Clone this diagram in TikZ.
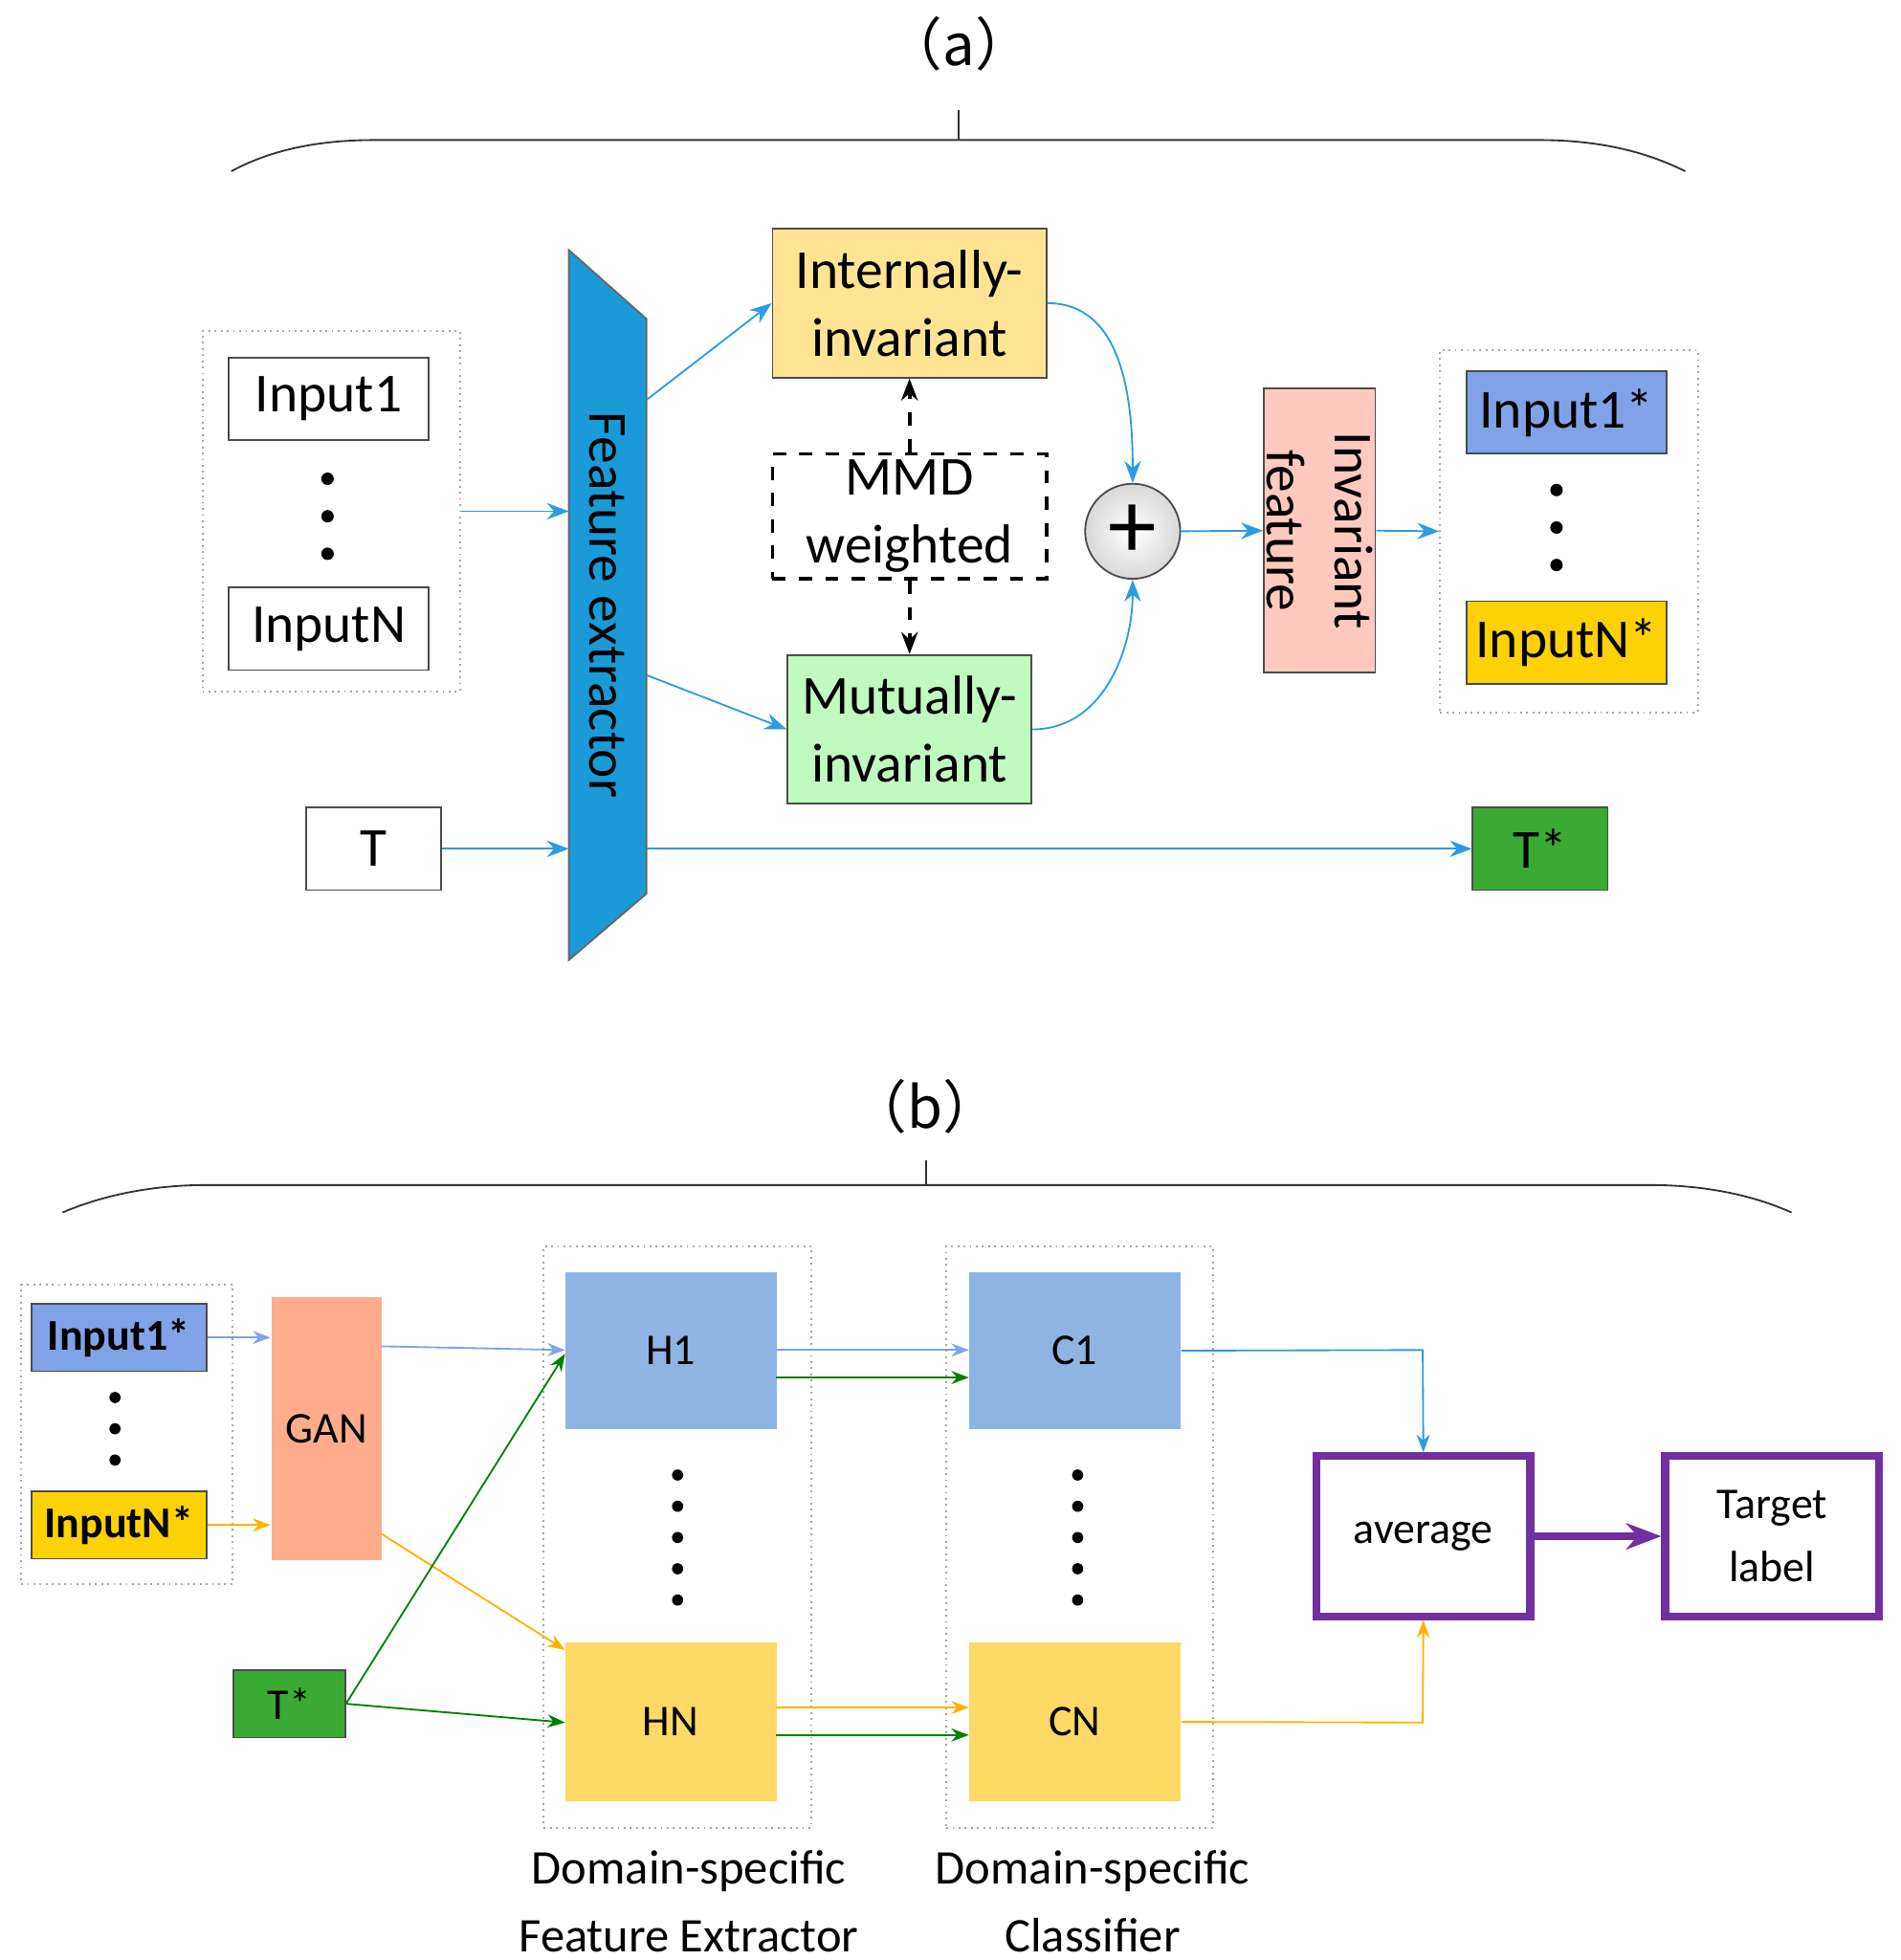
\documentclass[tikz,border=0pt]{standalone}
\usepackage{fontspec}
\setmainfont{Carlito}
\newfontfamily\cjk{Noto Sans CJK SC}
\usetikzlibrary{arrows.meta}
\definecolor{fblue}{HTML}{1A9AD6}
\definecolor{lblue}{HTML}{2E9BE0}
\definecolor{bblue}{HTML}{8EB4E3}
\definecolor{byel}{HTML}{FFD966}
\definecolor{bgreen}{HTML}{3AAA35}
\definecolor{bpurp}{HTML}{7030A0}
\tikzset{
  box/.style={draw=black!70,inner sep=0pt,align=center},
  grp/.style={draw=black!35,densely dotted,inner sep=0pt},
  arr/.style={-{Stealth[length=5pt]},lblue},
  dot/.style={circle,fill=black,inner sep=1pt},
}
\begin{document}
\begin{tikzpicture}[x=0.01cm,y=-0.01cm]
\useasboundingbox (0,0) rectangle (1520,1568);
\begin{scope}[font=\fontsize{12.5}{15.5}\selectfont]
% (a)
\node[font=\fontsize{13}{15}\selectfont] (ta) at (767,35) {\cjk （a）};
\draw[black!80] (185,137) .. controls (220,118) and (260,112) .. (300,112) -- (1230,112) .. controls (1270,112) and (1310,118) .. (1348,137);
\draw[black!80] (767,88) -- (767,112);
\node[grp,minimum width=2.06cm,minimum height=2.88cm] (gin) at (265,409) {};
\node[box,minimum width=1.6cm,minimum height=0.66cm] (in1) at (263,319) {Input1};
\node[box,minimum width=1.6cm,minimum height=0.66cm] (inN) at (263,503) {InputN};
\foreach \y in {383,413,443} \node[dot] at (262,\y) {};
\node[box,minimum width=1.08cm,minimum height=0.66cm] (t) at (299,679) {T};
\draw[black!60,fill=fblue] (455,200) -- (517,255) -- (517,715) -- (455,768) -- cycle;
\node[rotate=-90] (fe) at (486,484) {Feature extractor};
\coordinate (fein) at (455,409);
\coordinate (fet) at (455,679);
\node[box,fill=byel!70,minimum width=2.19cm,minimum height=1.19cm] (int) at (727.5,242.5) {Internally-\\invariant};
\node[box,draw=black,dashed,thick,minimum width=2.19cm,minimum height=1cm] (mmd) at (727.5,413) {MMD\\weighted};
\node[box,fill=green!45!black!10!green!25,minimum width=1.95cm,minimum height=1.19cm] (mut) at (727.5,583.5) {Mutually-\\invariant};
\node[circle,draw=black!70,inner color=white,outer color=black!15,minimum size=0.76cm,inner sep=0pt,font=\fontsize{22}{22}\selectfont] (plus) at (906,425) {+};
\node[box,fill=orange!30!red!25,rotate=-90,minimum width=2.27cm,minimum height=0.89cm,align=center] (inv) at (1055.5,424.5) {Invariant\\feature};
\node[grp,minimum width=2.06cm,minimum height=2.9cm] (gout) at (1255,425) {};
\node[box,fill=bblue!90!blue,minimum width=1.6cm,minimum height=0.66cm] (o1) at (1253,330) {Input1*};
\node[box,fill=yellow!70!orange,minimum width=1.6cm,minimum height=0.66cm] (oN) at (1253,514) {InputN*};
\foreach \y in {392,422,452} \node[dot] at (1245,\y) {};
\node[box,fill=bgreen,minimum width=1.08cm,minimum height=0.66cm] (ts) at (1232,679) {T*};
% connectors
\draw[arr] (gin.east) -- (fein);
\draw[arr] (t.east) -- (fet);
\draw[arr] (517,320) -- (int.west);
\draw[arr] (517,540) -- (mut.west);
\draw[arr] (int.east) to[out=0,in=90] (plus.north);
\draw[arr] (mut.east) to[out=0,in=-90] (plus.south);
\draw[arr] (plus.east) -- (inv.south);
\draw[arr] (inv.north) -- (gout.west);
\draw[arr] (517,679) -- (ts.west);
\draw[-{Stealth[length=5pt]},dashed,thick] (mmd.north) -- (int.south);
\draw[-{Stealth[length=5pt]},dashed,thick] (mmd.south) -- (mut.north);
\end{scope}
%
% (b)
\begin{scope}[font=\fontsize{10}{14.5}\selectfont]
\node[font=\fontsize{13}{15}\selectfont] (tb) at (740,885) {\cjk （b）};
\draw[black!80] (50,970) .. controls (85,955) and (125,948) .. (165,948) -- (1320,948) .. controls (1360,948) and (1400,955) .. (1433,970);
\draw[black!80] (741,928) -- (741,948);
\node[grp,minimum width=1.69cm,minimum height=2.39cm] (gb) at (101.5,1147.5) {};
\node[box,fill=bblue!90!blue,font=\fontsize{10}{12}\bfseries,minimum width=1.4cm,minimum height=0.54cm] (b1) at (95,1070) {Input1*};
\node[box,fill=yellow!70!orange,font=\fontsize{10}{12}\bfseries,minimum width=1.4cm,minimum height=0.54cm] (bN) at (95,1220) {InputN*};
\foreach \y in {1118,1143,1168} \node[dot,inner sep=0.9pt] at (92,\y) {};
\node[box,draw=none,fill=orange!55!red!45,minimum width=0.88cm,minimum height=2.1cm] (gan) at (261,1143) {GAN};
\node[box,fill=bgreen,minimum width=0.89cm,minimum height=0.54cm] (bt) at (231.5,1363) {T*};
\node[grp,minimum width=2.14cm,minimum height=4.65cm] (gh) at (542,1229.5) {};
\node[grp,minimum width=2.13cm,minimum height=4.65cm] (gc) at (863.5,1229.5) {};
\node[box,draw=none,fill=bblue,minimum width=1.69cm,minimum height=1.25cm] (h1) at (536.5,1080.5) {H1};
\node[box,draw=none,fill=byel,minimum width=1.69cm,minimum height=1.27cm] (hN) at (536.5,1377.5) {HN};
\node[box,draw=none,fill=bblue,minimum width=1.69cm,minimum height=1.25cm] (c1) at (859.5,1080.5) {C1};
\node[box,draw=none,fill=byel,minimum width=1.69cm,minimum height=1.27cm] (cN) at (859.5,1377.5) {CN};
\foreach \y in {1180,1205,1230,1255,1280} {
  \node[dot,inner sep=0.9pt] at (542,\y) {};
  \node[dot,inner sep=0.9pt] at (862,\y) {};
}
\node[box,draw=bpurp,line width=1.8pt,minimum width=1.71cm,minimum height=1.28cm] (avg) at (1138.5,1229) {average};
\node[box,draw=bpurp,line width=1.8pt,minimum width=1.71cm,minimum height=1.28cm] (tl) at (1417.5,1229) {Target\\label};
\node[align=center,font=\fontsize{11}{15.5}\selectfont] (lh) at (551,1521) {Domain-specific\\Feature Extractor};
\node[align=center,font=\fontsize{11}{15.5}\selectfont] (lc) at (874,1521) {Domain-specific\\Classifier};
% connectors
\tikzset{arr/.append style={-{Stealth[length=4pt]}}}
\draw[arr,bblue!90!blue] (b1.east) -- (gan.west|-b1.east);
\draw[arr,orange!60!yellow] (bN.east) -- (gan.west|-bN.east);
\draw[arr,bblue!90!blue] (305,1077) -- (452,1080);
\draw[arr,orange!60!yellow] (305,1227) -- (452,1320);
\draw[arr,green!50!black] (bt.east) -- (452,1083);
\draw[arr,green!50!black] (bt.east) -- (452,1378);
\draw[arr,bblue!90!blue] (621,1080) -- (775,1080);
\draw[arr,green!50!black] (621,1102) -- (775,1102);
\draw[arr,orange!60!yellow] (621,1366) -- (775,1366);
\draw[arr,green!50!black] (621,1388) -- (775,1388);
\draw[arr] (c1.east) -- (1138,1080) -- (avg.north);
\draw[arr,orange!60!yellow] (cN.east) -- (1138,1378) -- (avg.south);
\draw[-{Stealth[length=8pt]},bpurp,line width=1.8pt] (avg.east) -- (tl.west);
\end{scope}
\end{tikzpicture}
\end{document}
